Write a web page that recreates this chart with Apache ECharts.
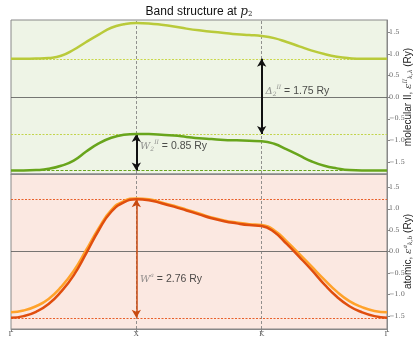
<!DOCTYPE html>
<html><head><meta charset="utf-8">
<script src="https://cdn.jsdelivr.net/npm/echarts@6/dist/echarts.min.js"></script>
<style>html,body{margin:0;padding:0;background:#fff}#c{width:416px;height:337px}</style>
</head><body><div id="c"></div>
<script>
// k-path positions (Γ=0, X=1, K=2, Γ=3)
const kPath = [0,0.1,0.2,0.3,0.4,0.5,0.6,0.7,0.8,0.9,1.0,1.1,1.2,1.3,1.4,1.5,1.6,1.7,1.8,1.9,2.0,2.1,2.2,2.3,2.4,2.5,2.6,2.7,2.8,2.9,3.0];
const kLabels = ['Γ','X','K','Γ'];
const yTicks = [-1.5,-1.0,-0.5,0.0,0.5,1.0,1.5];
// molecular II bands (Ry)
const molUpper = [0.89,0.89,0.895,0.91,0.96,1.10,1.28,1.45,1.61,1.69,1.72,1.71,1.68,1.64,1.59,1.55,1.52,1.49,1.46,1.44,1.42,1.37,1.28,1.18,1.08,1.00,0.94,0.905,0.89,0.89,0.89];
const molLower = [-1.70,-1.70,-1.69,-1.66,-1.59,-1.47,-1.26,-1.07,-0.94,-0.87,-0.85,-0.855,-0.87,-0.89,-0.92,-0.95,-0.97,-0.99,-1.00,-1.01,-1.02,-1.08,-1.21,-1.35,-1.49,-1.59,-1.65,-1.69,-1.70,-1.70,-1.70];
// atomic bands (Ry)
const atomLight = [-1.41,-1.37,-1.27,-1.10,-0.82,-0.45,0.04,0.55,0.97,1.18,1.24,1.22,1.15,1.07,0.98,0.89,0.80,0.73,0.68,0.64,0.62,0.50,0.24,-0.05,-0.35,-0.65,-0.93,-1.15,-1.29,-1.38,-1.41];
const atomDark = [-1.54,-1.50,-1.40,-1.22,-0.93,-0.55,-0.04,0.50,0.93,1.15,1.22,1.20,1.13,1.05,0.96,0.87,0.78,0.71,0.66,0.62,0.60,0.46,0.18,-0.12,-0.43,-0.76,-1.05,-1.27,-1.41,-1.50,-1.54];
// reference levels
const molUpperMin = 0.89, molLowerMax = -0.85, molLowerMin = -1.70;
const atomMax = 1.22, atomMin = -1.54;
const gapLabel = 'Δ', gapValue = '1.75 Ry', wMolValue = '0.85 Ry', wAtomValue = '2.76 Ry';

const pair = (ys) => kPath.map((x,i)=>[x, ys[i]]);
const chart = echarts.init(document.getElementById('c'), null, {renderer:'canvas'});
const serif = 'DejaVu Serif';
const sans = 'Liberation Sans';
const tickFmt = v => (Math.abs(v) < 1e-9 ? '0.0' : v.toFixed(1).replace('-', '−'));

function yAx(grid, min, max, name) {
  return {
    type:'value', gridIndex:grid, position:'right', min, max,
    axisLine:{show:true, onZero:false, lineStyle:{color:'#888', width:1}},
    axisTick:{show:true, length:3, customValues: yTicks, lineStyle:{color:'#888'}},
    axisLabel:{show:true, customValues: yTicks, formatter: tickFmt, fontFamily: serif, fontSize:6.5, color:'#666', margin:2},
    splitLine:{show:false},
    name, nameLocation:'middle', nameGap:15, nameRotate:90, nameMoveOverlap:false,
    nameTextStyle:{
      fontFamily:sans, fontSize:10, color:'#222',
      rich:{
        n:{fontFamily:sans, fontSize:10, color:'#222'},
        e:{fontFamily:serif, fontStyle:'italic', fontSize:10, color:'#444'},
        sup:{fontFamily:serif, fontStyle:'italic', fontSize:6, color:'#444', padding:[0,0,6,0]},
        sub:{fontFamily:serif, fontStyle:'italic', fontSize:6, color:'#444', padding:[5,0,0,0]}
      }
    }
  };
}
function xAx(grid, showLabels) {
  return {
    type:'value', gridIndex:grid, min:0, max:3, interval:1,
    axisLine:{show:true, onZero:false, lineStyle:{color:'#888'}},
    axisTick:{show:showLabels, length:3, lineStyle:{color:'#888'}},
    axisLabel:{show:showLabels, formatter: v => kLabels[Math.round(v)], fontFamily:serif, fontSize:7, color:'#555', margin:2},
    splitLine:{show:false}
  };
}
const labelRich = {
  v:{fontFamily:serif, fontStyle:'italic', fontSize:10, color:'#777'},
  sup:{fontFamily:serif, fontStyle:'italic', fontSize:6, color:'#777', padding:[0,0,7,0]},
  sub:{fontFamily:serif, fontStyle:'italic', fontSize:6, color:'#777', padding:[6,0,0,0]},
  t:{fontFamily:sans, fontSize:10.5, color:'#222'}
};
function hLine(y, color, type, width) {
  return {yAxis:y, lineStyle:{color, type, width}};
}
const vLines = [
  {xAxis:1, lineStyle:{color:'#777', type:[3,2], width:0.8}},
  {xAxis:2, lineStyle:{color:'#777', type:[3,2], width:0.8}}
];

const option = {
  animation:false,
  backgroundColor:'#fff',
  graphic:[{
    type:'text',
    style:{
      text:'{a|Band structure at }{p|p}{s|2}',
      x:199, y:12, align:'center', verticalAlign:'middle',
      rich:{
        a:{fontFamily:sans, fontSize:12, fill:'#111'},
        p:{fontFamily:serif, fontStyle:'italic', fontSize:12, fill:'#222'},
        s:{fontFamily:serif, fontSize:7, fill:'#222', padding:[5,0,0,0]}
      }
    }
  }],
  grid:[
    {left:11, right:29, top:20, height:154, show:true, backgroundColor:'#EEF4E6', borderColor:'#888', borderWidth:1, outerBoundsMode:'none', containLabel:false},
    {left:11, right:29, top:174, height:155, show:true, backgroundColor:'#FBE8E1', borderColor:'#888', borderWidth:1, outerBoundsMode:'none', containLabel:false}
  ],
  xAxis:[xAx(0,false), xAx(1,true)],
  yAxis:[
    yAx(0, -1.78, 1.79, '{n|molecular II, }{e|ε}{sup|II}{sub|k,λ}{n| (Ry)}'),
    yAx(1, -1.80, 1.81, '{n|atomic, }{e|ε}{sup|a}{sub|k,b}{n| (Ry)}')
  ],
  series:[
    {
      type:'line', xAxisIndex:0, yAxisIndex:0, data:pair(molUpper), smooth:true, showSymbol:false,
      lineStyle:{color:'#B9CA3A', width:2.5}, z:5,
      markLine:{silent:true, symbol:'none', label:{show:false}, data:[
        hLine(0,'#555','solid',0.8),
        hLine(molUpperMin,'#C9D74A',[2,1.5],1.2),
        hLine(molLowerMax,'#C2D44C',[2,1.5],1.2),
        hLine(molLowerMin,'#6AA520',[3,1.5],1.2),
        ...vLines
      ]}
    },
    {
      type:'line', xAxisIndex:0, yAxisIndex:0, data:pair(molLower), smooth:true, showSymbol:false,
      lineStyle:{color:'#68A51C', width:2.5}, z:5,
      markLine:{silent:true, symbol:['arrow','arrow'], symbolSize:[7,8], label:{show:false},
        lineStyle:{color:'#111', width:2, type:'solid'},
        data:[
          [{coord:[2, molUpperMin]},{coord:[2, molLowerMax]}],
          [{coord:[1, molLowerMax]},{coord:[1, molLowerMin]}]
        ]}
    },
    {
      type:'scatter', xAxisIndex:0, yAxisIndex:0, symbolSize:0, silent:true, z:10,
      data:[
        {value:[2.03, 0.14], label:{formatter:'{v|'+gapLabel+'}{sub|2}{sup|II}{t| = '+gapValue+'}'}},
        {value:[1.03, -1.14], label:{formatter:'{v|W}{sub|2}{sup|II}{t| = '+wMolValue+'}'}}
      ],
      label:{show:true, position:'right', distance:0, rich:labelRich}
    },
    {
      type:'line', xAxisIndex:1, yAxisIndex:1, data:pair(atomLight), smooth:true, showSymbol:false,
      lineStyle:{color:'#FFA22A', width:2.5}, z:5,
      markLine:{silent:true, symbol:'none', label:{show:false}, data:[
        hLine(0,'#555','solid',0.8),
        hLine(atomMax,'#E8602A',[2,1.5],1.1),
        hLine(atomMin,'#E8602A',[2,1.5],1.1),
        ...vLines
      ]}
    },
    {
      type:'line', xAxisIndex:1, yAxisIndex:1, data:pair(atomDark), smooth:true, showSymbol:false,
      lineStyle:{color:'#E04E0E', width:2.5}, z:6,
      markLine:{silent:true, symbol:['arrow','arrow'], symbolSize:[7,8], label:{show:false},
        lineStyle:{color:'#C84A10', width:1.5, type:'solid'},
        data:[[{coord:[1, atomMax]},{coord:[1, atomMin]}]]}
    },
    {
      type:'scatter', xAxisIndex:1, yAxisIndex:1, symbolSize:0, silent:true, z:10,
      data:[{value:[1.03, -0.64], label:{formatter:'{v|W}{sup|a}{t| = '+wAtomValue+'}'}}],
      label:{show:true, position:'right', distance:0, rich:labelRich}
    }
  ]
};
chart.setOption(option);
</script></body></html>
